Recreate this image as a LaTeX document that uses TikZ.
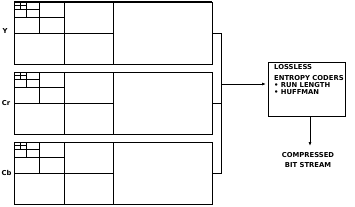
\documentclass[tikz,border=0pt]{standalone}
\usepackage{fontspec}
\setmainfont{DejaVu Sans}
\usetikzlibrary{arrows.meta}
\begin{document}
\begin{tikzpicture}[x=1pt,y=-1pt,
  ln/.style={line width=0.8pt},
  panel/.style={draw,ln,minimum width=198pt,minimum height=62pt,inner sep=0pt,outer sep=0pt},
  lbl/.style={font=\bfseries\fontsize{6.8}{9.5}\selectfont,inner sep=0pt},
  txt/.style={font=\bfseries\fontsize{6.8}{8}\selectfont,inner sep=0pt,anchor=west},
  arr/.style={ln,-{Latex[length=4pt,width=3pt]}}]
\useasboundingbox (0,0) rectangle (355,206);
% panels
\foreach \nm/\t in {pY/2,pCr/72,pCb/142}{
  \node[panel,anchor=north west] (\nm) at (14,\t) {};
  \begin{scope}[yshift=-\t pt]
    \draw[ln] (113,0) -- (113,62);
    \draw[ln] (64,0) -- (64,62);
    \draw[ln] (14,31) -- (113,31);
    \draw[ln] (39,0) -- (39,31);
    \draw[ln] (14,15.5) -- (64,15.5);
    \draw[ln] (26.5,0) -- (26.5,15.5);
    \draw[ln] (14,7.5) -- (39,7.5);
    \draw[ln] (20.5,0) -- (20.5,7.5);
    \draw[ln] (14,3.8) -- (26.5,3.8);
  \end{scope}
}
\draw[line width=1.4pt] (pY.north west) -- (pY.north east);
\node[lbl] (lY) at (5,31) {Y};
\node[lbl] (lCr) at (6,103) {Cr};
\node[lbl] (lCb) at (6.5,173) {Cb};
% box
\node[draw,ln,minimum width=77pt,minimum height=54pt,inner sep=0pt,anchor=north west] (box) at (268,62) {};
\node[txt] (t1) at (274,67.5) {LOSSLESS};
\node[txt] (t2) at (274,78.5) {ENTROPY CODERS};
\node[txt] (t3) at (274,85.5) {• RUN LENGTH};
\node[txt] (t4) at (274,92.5) {• HUFFMAN};
% connectors
\coordinate (j) at (221,84);
\draw[ln] (pY.east) -| (j);
\draw[ln] (pCr.east) -| (j);
\draw[ln] (pCb.east) -| (j);
\draw[arr,shorten >=2pt] (j) -- (j -| box.west);
\coordinate (o) at (310,146);
\node[lbl,align=center] (cbs) at (308,160) {COMPRESSED\\BIT STREAM};
\draw[arr] (box.south -| o) -- (o);
\end{tikzpicture}
\end{document}
